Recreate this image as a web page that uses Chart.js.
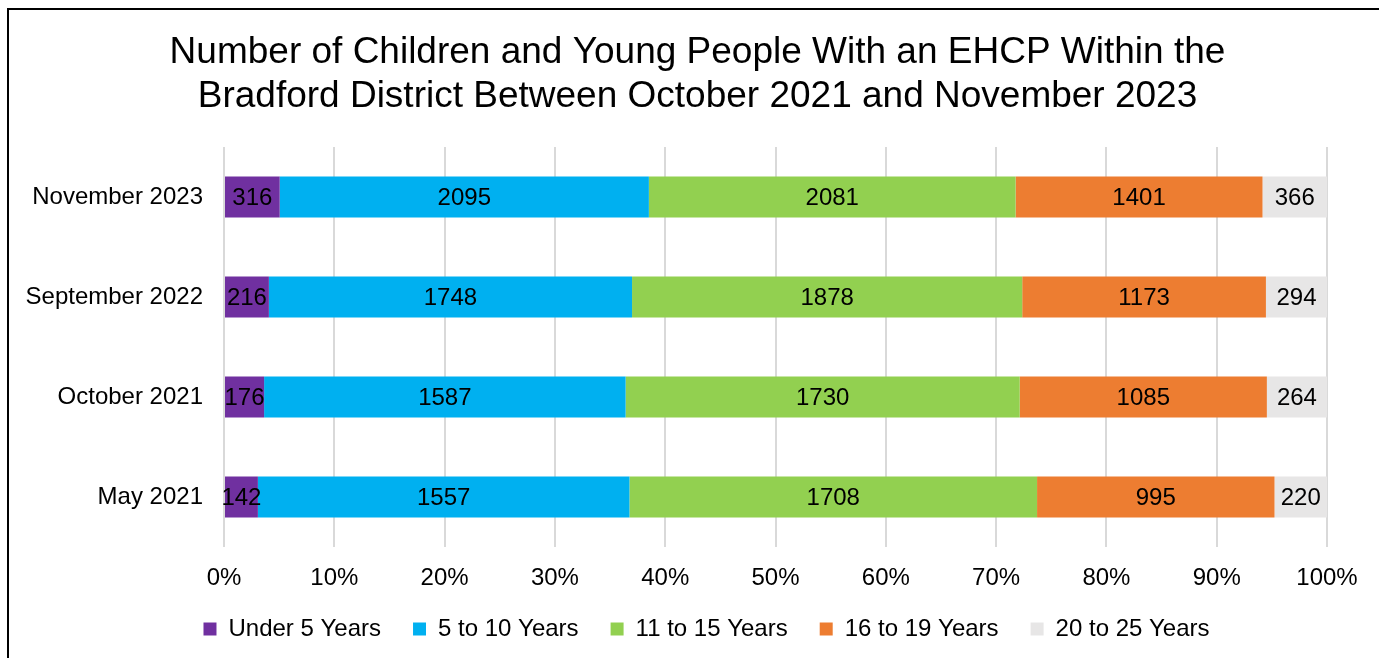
<!DOCTYPE html>
<html>
<head>
<meta charset="utf-8">
<script src="https://cdn.jsdelivr.net/npm/chart.js@4/dist/chart.umd.min.js"></script>
<style>
  html, body { margin: 0; padding: 0; background: #fff; overflow: hidden; }
  #moldura { position: absolute; left: 7px; top: 8px; width: 1400px; height: 700px; border: 2px solid #000; }
  #grafico { position: absolute; left: 0; top: 0; }
</style>
</head>
<body>
<div id="moldura"></div>
<canvas id="grafico" width="1379" height="658"></canvas>
<script>
// dados
let periodos = ["November 2023", "September 2022", "October 2021", "May 2021"];
let faixas = ["Under 5 Years", "5 to 10 Years", "11 to 15 Years", "16 to 19 Years", "20 to 25 Years"];
let cores = ["#7030A0", "#00B0F0", "#92D050", "#ED7D31", "#E7E6E6"];

let menor5 = [316, 216, 176, 142];
let de5a10 = [2095, 1748, 1587, 1557];
let de11a15 = [2081, 1878, 1730, 1708];
let de16a19 = [1401, 1173, 1085, 995];
let de20a25 = [366, 294, 264, 220];

let ticksX = [0, 10, 20, 30, 40, 50, 60, 70, 80, 90, 100];

let fonte = "'Liberation Sans', Arial, sans-serif";
let series = [menor5, de5a10, de11a15, de16a19, de20a25];

// totais por periodo, para o 100% empilhado
let totais = periodos.map((p, i) => series.reduce((s, serie) => s + serie[i], 0));

let datasets = series.map((serie, k) => ({
  label: faixas[k],
  data: serie.map((v, i) => (v / totais[i]) * 100),
  valores: serie,
  backgroundColor: cores[k],
  borderWidth: 0,
  barPercentage: 0.41,
  categoryPercentage: 1,
}));

// escreve o valor no meio de cada segmento
const rotulos = {
  id: "rotulos",
  afterLayout(chart) {
    // legenda um pouco mais à direita, como no original
    chart.legend.left += 9;
    chart.legend.right += 9;
  },
  afterDatasetsDraw(chart) {
    const ctx = chart.ctx;
    ctx.save();
    ctx.font = "24px " + fonte;
    ctx.fillStyle = "#000";
    ctx.textAlign = "center";
    ctx.textBaseline = "middle";
    chart.data.datasets.forEach((ds, k) => {
      chart.getDatasetMeta(k).data.forEach((barra, i) => {
        const meio = (barra.x + barra.base) / 2;
        ctx.fillText(String(ds.valores[i]), meio, barra.y + 1);
      });
    });
    ctx.restore();
  },
};

new Chart(document.getElementById("grafico"), {
  type: "bar",
  data: { labels: periodos, datasets: datasets },
  options: {
    indexAxis: "y",
    responsive: false,
    animation: false,
    layout: { padding: { left: 16, right: 0, top: 0, bottom: 7 } },
    scales: {
      x: {
        stacked: true,
        min: 0,
        max: 100,
        afterBuildTicks: (s) => { s.ticks = ticksX.map((v) => ({ value: v })); },
        afterFit: (s) => { s.paddingRight = 52; s.height = 38; },
        grid: { color: "#D9D9D9", lineWidth: 2, drawTicks: false },
        border: { display: false },
        ticks: {
          padding: 17,
          color: "#000",
          font: { family: fonte, size: 24 },
          callback: (v) => v + "%",
        },
      },
      y: {
        stacked: true,
        afterFit: (s) => { s.width = 208; },
        grid: { display: false, drawTicks: false, tickLength: 0 },
        border: { display: false },
        ticks: { padding: 21, color: "#000", font: { family: fonte, size: 24 } },
      },
    },
    plugins: {
      title: {
        display: true,
        text: [
          "Number of Children and Young People With an EHCP Within the",
          "Bradford District Between October 2021 and November 2023",
        ],
        color: "#000",
        font: { family: fonte, size: 37, weight: "normal", lineHeight: 1.19 },
        padding: { top: 31, bottom: 28 },
      },
      legend: {
        position: "bottom",
        labels: {
          color: "#000",
          font: { family: fonte, size: 24 },
          boxWidth: 13,
          boxHeight: 13,
          padding: 32,
        },
      },
      tooltip: { enabled: false },
    },
  },
  plugins: [rotulos],
});
</script>
</body>
</html>
